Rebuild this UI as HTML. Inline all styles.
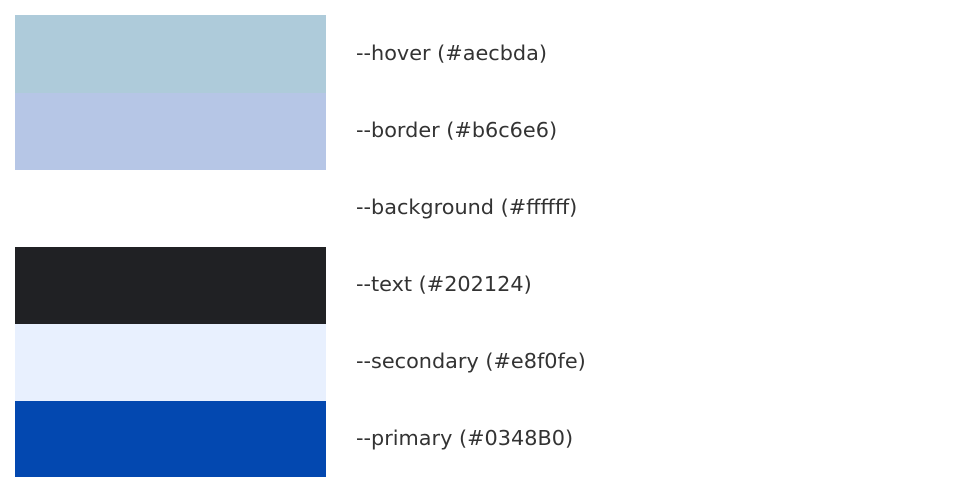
<!DOCTYPE html>
<html><head><meta charset="utf-8"><style>
body{margin:0;width:959px;height:492px;background:#fff;position:relative;overflow:hidden;font-family:"DejaVu Sans","Liberation Sans",sans-serif;}
.s{position:absolute;left:15px;width:311px;}
.t{position:absolute;left:356px;font-size:20.8px;color:#333;line-height:24px;}
</style></head><body>
<div class="s" style="top:15px;height:78px;background:#aecbda"></div>
<div class="s" style="top:93px;height:77px;background:#b6c6e6"></div>
<div class="s" style="top:170px;height:77px;background:#ffffff"></div>
<div class="s" style="top:247px;height:77px;background:#202124"></div>
<div class="s" style="top:324px;height:77px;background:#e8f0fe"></div>
<div class="s" style="top:401px;height:76px;background:#0348B0"></div>
<div class="t" style="top:41px">--hover (#aecbda)</div>
<div class="t" style="top:118px">--border (#b6c6e6)</div>
<div class="t" style="top:195px">--background (#ffffff)</div>
<div class="t" style="top:272px">--text (#202124)</div>
<div class="t" style="top:349px">--secondary (#e8f0fe)</div>
<div class="t" style="top:426px">--primary (#0348B0)</div>
</body></html>
